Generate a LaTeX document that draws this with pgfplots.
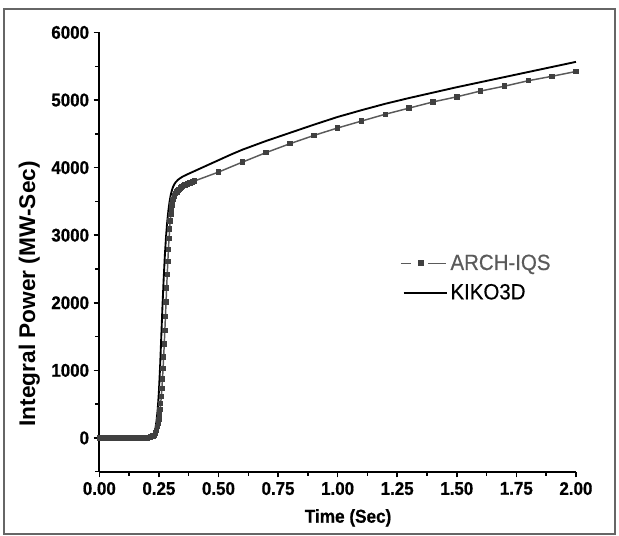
\documentclass[border=0pt]{standalone}
\usepackage{fontspec}
\setmainfont{Liberation Sans}
\newfontfamily\condfont[FakeStretch=0.92]{Liberation Sans}
\newfontfamily\heavyfont[FakeStretch=0.92, FakeBold=0.7]{Liberation Sans Bold}
\newfontfamily\legfont[FakeStretch=0.93, FakeBold=0.5]{Liberation Sans}
\usepackage{pgfplots}
\pgfplotsset{compat=1.18}
\definecolor{archline}{HTML}{5A5A5A}
\definecolor{archmark}{HTML}{404040}
\definecolor{framegray}{HTML}{666666}
\newcommand{\tickfont}{\heavyfont\fontsize{13.8pt}{15pt}\selectfont}
\begin{document}
\begin{tikzpicture}
\useasboundingbox (-74.5pt,-48.15pt) rectangle (389.8pt,353.85pt);
\draw[framegray, line width=1pt] (-71.5pt,-46.65pt) rectangle (386.8pt,347.1pt);
\begin{axis}[
  at={(0,0)}, anchor=south west,
  scale only axis, width=357.5pt, height=329.5pt,
  xmin=0, xmax=2, ymin=-500, ymax=6000,
  axis x line=bottom, axis y line=left,
  axis line style={-, line width=1.3pt, black},
  every tick/.style={black, line width=1.1pt},
  tick align=outside,
  major tick length=4.2pt, minor tick length=3pt,
  xtick={0,0.25,...,2.01}, minor xtick={0.125,0.375,...,1.9},
  ytick={0,1000,...,6000}, minor ytick={-500,500,...,5500},
  /pgf/number format/assume math mode=true,
  xticklabel={{\tickfont\pgfmathprintnumber[fixed,fixed zerofill,precision=2]{\tick}}},
  yticklabel={{\tickfont\pgfmathprintnumber[fixed,1000 sep={}]{\tick}}},
  xlabel={Time (Sec)}, ylabel={Integral Power (MW-Sec)},
  xlabel style={font=\heavyfont\fontsize{14pt}{16pt}\selectfont, at={(axis description cs:0.522,-0.105)}, anchor=center},
  ylabel style={font=\bfseries\fontsize{17pt}{19pt}\selectfont, at={(axis description cs:-0.147,0.405)}, anchor=center},
  legend style={at={(axis cs:1.2616,2367)}, anchor=west, draw=none, fill=none,
    font=\legfont\fontsize{16.5pt}{19pt}\selectfont, row sep=5pt, inner sep=0pt},
  legend cell align=left,
  clip=false,
]
\addplot[color=archline, line width=1.1pt, mark=square*, mark size=1.5pt,
  mark options={fill=archmark, draw=archmark, solid},
  legend image code/.code={
    \draw[archline, line width=1.1pt] (0pt,0pt) -- (7.5pt,0pt);
    \fill[archmark] (13.5pt,-1.6pt) rectangle (16.7pt,1.6pt);
    \draw[archline, line width=1.1pt] (20.5pt,0pt) -- (34pt,0pt);
  }]
coordinates {
(0,0)(0.01,0)(0.02,0)(0.03,0)(0.04,0)(0.05,0)(0.06,0)(0.07,0)(0.08,0)(0.09,0)
(0.10,0)(0.11,0)(0.12,0)(0.13,0)(0.14,0)(0.15,0)(0.16,0)(0.17,0)(0.18,0)(0.19,0)
(0.20,0)(0.205,3)(0.21,6)(0.215,12)(0.22,20)(0.225,28)(0.23,40)(0.235,70)
(0.24,110)(0.245,170)(0.2475,215)(0.25,270)(0.2525,340)(0.255,420)(0.2575,510)
(0.26,610)(0.2625,730)(0.265,870)(0.2675,1030)(0.27,1200)(0.2725,1390)
(0.275,1590)(0.2775,1800)(0.28,2010)(0.2825,2220)(0.285,2420)(0.2875,2610)
(0.29,2790)(0.2925,2950)(0.295,3090)(0.2975,3210)(0.30,3310)(0.3025,3390)
(0.305,3450)(0.3075,3495)(0.31,3530)(0.315,3580)(0.32,3615)(0.325,3640)
(0.33,3662)(0.335,3680)(0.34,3696)(0.345,3710)(0.35,3722)(0.355,3733)
(0.36,3743)(0.365,3752)(0.37,3760)(0.375,3768)(0.38,3775)(0.385,3782)
(0.39,3789)(0.395,3796)(0.40,3803)
(0.5,3934)(0.6,4081)(0.7,4223)(0.8,4354)(0.9,4476)(1.0,4587)(1.1,4689)
(1.2,4790)(1.3,4881)(1.4,4972)(1.5,5048)(1.6,5134)(1.7,5205)(1.8,5286)
(1.9,5352)(2.0,5423)
};
\addlegendentry{\textcolor{archline}{ARCH-IQS}}
\addplot[color=black, line width=1.4pt, no marks,
  legend image code/.code={
    \draw[black, line width=1.3pt] (2pt,0pt) -- (34.5pt,0pt);
  }]
coordinates {
(0,0)(0.1,0)(0.2,0)(0.21,5)(0.22,20)(0.225,40)(0.23,75)(0.235,130)
(0.24,250)(0.245,420)(0.25,680)(0.255,1050)(0.26,1500)(0.265,1950)
(0.27,2350)(0.275,2700)(0.28,2980)(0.285,3200)(0.29,3370)(0.295,3500)
(0.30,3600)(0.305,3670)(0.31,3720)(0.315,3755)(0.32,3782)(0.33,3820)
(0.34,3845)(0.35,3868)(0.375,3910)(0.40,3950)(0.45,4030)(0.50,4110)
(0.55,4190)(0.60,4265)(0.70,4395)(0.80,4515)(0.90,4635)(1.00,4750)
(1.10,4850)(1.20,4945)(1.30,5030)(1.40,5110)(1.50,5190)(1.60,5265)
(1.70,5340)(1.80,5415)(1.90,5490)(2.00,5565)
};
\addlegendentry{KIKO3D}
\end{axis}
\end{tikzpicture}
\end{document}
